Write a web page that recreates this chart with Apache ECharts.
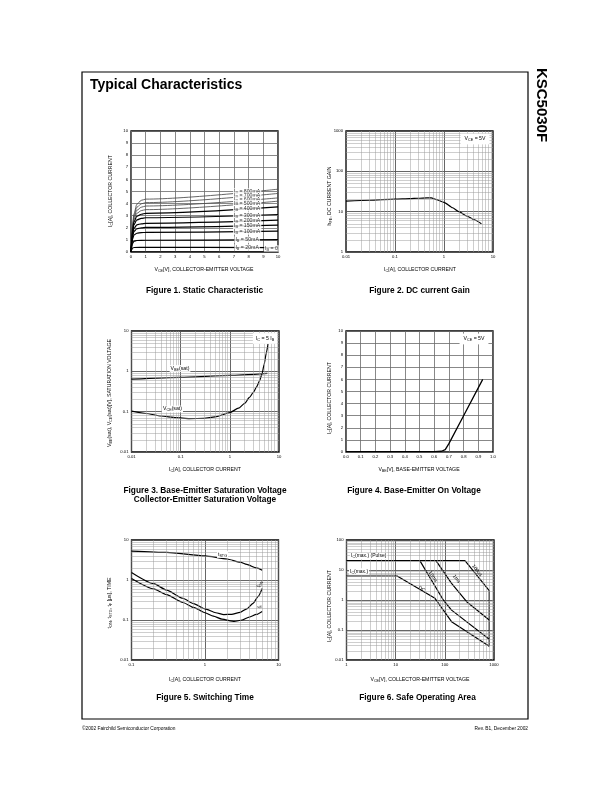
<!DOCTYPE html>
<html>
<head>
<meta charset="utf-8">
<title>KSC5030F Typical Characteristics</title>
<script src="https://cdn.jsdelivr.net/npm/echarts@6.0.0/dist/echarts.min.js"></script>
<style>
html,body{margin:0;padding:0;background:#ffffff;}
#chart{width:612px;height:792px;}
</style>
</head>
<body>
<div id="chart"></div>
<script>
// ---------------- Figure 1: Static Characteristic ----------------
const fig1XTicks = ['0','1','2','3','4','5','6','7','8','9','10'];
const fig1YTicks = ['0','1','2','3','4','5','6','7','8','9','10'];
const fig1IbNames = ['800mA','700mA','600mA','500mA','400mA','300mA','200mA','150mA','100mA','50mA','20mA','0'];
const ib800 = [[0,0],[0.05,1.2],[0.1,2.1],[0.2,3.15],[0.4,3.95],[0.7,4.27],[1,4.37],[10,5.19]];
const ib700 = [[0,0],[0.05,1.15],[0.1,2.0],[0.2,3.0],[0.4,3.7],[0.7,3.98],[1,4.08],[10,4.84]];
const ib600 = [[0,0],[0.05,1.1],[0.1,1.95],[0.2,2.85],[0.4,3.45],[0.7,3.7],[1,3.8],[10,4.47]];
const ib500 = [[0,0],[0.05,1.05],[0.1,1.85],[0.2,2.7],[0.4,3.2],[0.7,3.42],[1,3.5],[10,4.2]];
const ib400 = [[0,0],[0.05,1.0],[0.1,1.75],[0.2,2.5],[0.4,2.95],[0.7,3.12],[1,3.2],[10,3.73]];
const ib300 = [[0,0],[0.05,0.9],[0.1,1.6],[0.2,2.25],[0.4,2.65],[0.7,2.78],[1,2.83],[10,3.1]];
const ib200 = [[0,0],[0.05,0.8],[0.1,1.4],[0.2,1.95],[0.4,2.25],[0.7,2.33],[1,2.37],[10,2.63]];
const ib150 = [[0,0],[0.05,0.7],[0.1,1.25],[0.2,1.7],[0.4,1.92],[0.7,2.0],[1,2.03],[10,2.22]];
const ib100 = [[0,0],[0.05,0.6],[0.1,1.05],[0.2,1.4],[0.4,1.55],[0.7,1.6],[1,1.62],[10,1.72]];
const ib50  = [[0,0],[0.05,0.4],[0.1,0.7],[0.2,0.88],[0.4,0.95],[1,0.97],[10,1.03]];
const ib20  = [[0,0],[0.05,0.2],[0.1,0.33],[0.2,0.37],[1,0.38],[10,0.36]];
const ib0   = [[0,0],[10,0]];

// ---------------- Figure 2: DC current Gain ----------------
const fig2XTicks = ['0.01','0.1','1','10'];
const fig2YTicks = ['1','10','100','1000'];
const fig2Hfe = [[0.01,18.2],[0.03,19.2],[0.1,20.4],[0.2,21],[0.3,21.5],[0.45,22],[0.55,21.9],[0.7,20],[1,17],[1.5,12.5],[2,10],[3,7.7],[4,6.4],[5.8,5]];

// ---------------- Figure 3: Saturation Voltage ----------------
const fig3XTicks = ['0.01','0.1','1','10'];
const fig3YTicks = ['0.01','0.1','1','10'];
const fig3VbeSat = [[0.01,0.64],[0.1,0.71],[1,0.79],[5.8,0.89]];
const fig3VceSat = [[0.01,0.103],[0.02,0.09],[0.04,0.078],[0.08,0.071],[0.15,0.0675],[0.3,0.068],[0.5,0.074],[1,0.095],[1.5,0.122],[2,0.16],[2.5,0.225],[3,0.3],[3.5,0.41],[4,0.57],[4.5,0.85],[5,1.5],[5.5,2.8],[6,4.9]];

// ---------------- Figure 4: Base-Emitter On Voltage ----------------
const fig4XTicks = ['0.0','0.1','0.2','0.3','0.4','0.5','0.6','0.7','0.8','0.9','1.0'];
const fig4YTicks = ['0','1','2','3','4','5','6','7','8','9','10'];
const fig4Ic = [[0,0.03],[0.6,0.03],[0.65,0.06],[0.675,0.2],[0.7,0.69],[0.8,3.0],[0.93,6.0]];

// ---------------- Figure 5: Switching Time ----------------
const fig5XTicks = ['0.1','1','10'];
const fig5YTicks = ['0.01','0.1','1','10'];
const fig5Tstg = [[0.1,5.3],[0.3,4.9],[1,4.0],[2,3.35],[3,2.8],[3.7,2.45],[5,2.0],[6,1.76]];
const fig5Ton  = [[0.1,1.54],[0.2,0.81],[0.3,0.56],[0.5,0.35],[0.7,0.257],[1,0.19],[1.4,0.152],[1.8,0.137],[2.3,0.138],[3,0.155],[3.7,0.19],[4.5,0.26],[5.3,0.39],[6,0.61]];
const fig5Tf   = [[0.1,1.09],[0.2,0.6],[0.3,0.43],[0.5,0.274],[0.7,0.206],[1,0.152],[1.3,0.125],[1.7,0.105],[2.5,0.092],[3.2,0.1],[4,0.118],[5,0.138],[6,0.164]];

// ---------------- Figure 6: Safe Operating Area ----------------
const fig6XTicks = ['1','10','100','1000'];
const fig6YTicks = ['0.01','0.1','1','10','100'];
const fig6Pulse = [[1,20.5],[257,20.5]];
const fig6Dc    = [[1,6.3],[10.7,6.3],[63,1.14],[137,0.19],[800,0.029]];
const fig6Ms10  = [[31,20.5],[93,1.0],[137,0.46],[800,0.049]];
const fig6Ms1   = [[66,20.5],[137,3.6],[278,0.88],[800,0.215]];
const fig6Us100 = [[257,20.5],[800,2.05],[800,0.029]];

// ---------------- helpers ----------------
const FONT = '"Liberation Sans", Arial, Helvetica, sans-serif';
const TICK_FS = 4.2;
const TITLE_FS = 5.2;

function tickFormatter(ticks) {
  return function (v) {
    for (const t of ticks) {
      const n = +t;
      if (Math.abs(n - v) <= Math.abs(n) * 1e-6 + 1e-9) return t;
    }
    return '';
  };
}
function axisLabelCfg(ticks) {
  return {show:true, fontSize:TICK_FS, fontFamily:FONT, color:'#000', margin:3, interval:0, formatter:tickFormatter(ticks)};
}
function linAxis(gi, ticks, interval) {
  return {type:'value', gridIndex:gi, min:+ticks[0], max:+ticks[ticks.length-1], interval:interval,
    axisLine:{show:false}, axisTick:{show:false},
    splitLine:{show:true, lineStyle:{color:'#6a6a6a', width:0.8}},
    axisLabel:axisLabelCfg(ticks)};
}
function logAxis(gi, ticks) {
  return {type:'log', logBase:10, gridIndex:gi, min:+ticks[0], max:+ticks[ticks.length-1],
    axisLine:{show:false}, axisTick:{show:false},
    splitLine:{show:true, lineStyle:{color:'#555', width:0.9}},
    axisLabel:axisLabelCfg(ticks)};
}
function minors(lo, hi) {
  const out = [];
  for (let d = lo; d < hi * 0.999; d *= 10) {
    for (let k = 2; k <= 9; k++) out.push(+(d * k).toPrecision(6));
  }
  return out;
}
function minorGrid(gi, xs, ys, anchor) {
  return {type:'line', xAxisIndex:gi, yAxisIndex:gi, data:[anchor], symbol:'none', showSymbol:false,
    lineStyle:{opacity:0}, silent:true, animation:false, z:1,
    markLine:{silent:true, animation:false, symbol:['none','none'], label:{show:false},
      emphasis:{disabled:true},
      lineStyle:{color:'#9c9c9c', width:0.5, type:'solid'},
      data:[...xs.map(v => ({xAxis:v})), ...ys.map(v => ({yAxis:v}))]}};
}
function curve(gi, data, o) {
  o = o || {};
  const s = {type:'line', xAxisIndex:gi, yAxisIndex:gi, data:data, symbol:'none', showSymbol:false,
    silent:true, animation:false, z:3, emphasis:{disabled:true},
    lineStyle:{color:o.color || '#000', width:o.width || 1.1}};
  if (o.smooth) { s.smooth = o.smooth; s.smoothMonotone = 'x'; }
  return s;
}
function interp(d, x) {
  for (let i = 0; i < d.length - 1; i++) {
    const x0 = d[i][0], y0 = d[i][1], x1 = d[i+1][0], y1 = d[i+1][1];
    if (x >= x0 && x <= x1) return y0 + (y1 - y0) * (x - x0) / (x1 - x0);
  }
  return d[d.length-1][1];
}
function richSub(fs) {
  return {
    s:{fontSize:fs*0.72, lineHeight:fs*0.85, verticalAlign:'bottom', fontFamily:FONT, fill:'#000', color:'#000'}
  };
}
function gText(x, y, text, fs, o) {
  o = o || {};
  const al = o.align || 'center';
  const st = {text:text, fontSize:fs, fontFamily:FONT, fontWeight:o.bold ? 'bold' : 'normal', fill:'#000',
    align:al, textAlign:al, verticalAlign:'middle', textVerticalAlign:'middle',
    lineHeight:fs*1.3, rich:richSub(fs)};
  if (o.bg) { st.backgroundColor = o.bg; st.padding = o.pad || [0,1]; }
  return {type:'text', x:x, y:y, rotation:o.rot || 0, z:100, silent:true, style:st};
}

// ---------------- layout ----------------
const grids = [
  {left:131, top:131, width:147, height:121},
  {left:346, top:131, width:147, height:121},
  {left:131.5, top:331, width:147.5, height:121},
  {left:346, top:331, width:147, height:121},
  {left:131.5, top:540, width:147, height:120},
  {left:346.5, top:540, width:147.5, height:120}
].map(g => Object.assign({show:true, borderColor:'#000', borderWidth:1.3, backgroundColor:'rgba(0,0,0,0)',
  containLabel:false, outerBoundsMode:'none'}, g));

const xAxes = [
  linAxis(0, fig1XTicks, 1),
  logAxis(1, fig2XTicks),
  logAxis(2, fig3XTicks),
  linAxis(3, fig4XTicks, 0.1),
  logAxis(4, fig5XTicks),
  logAxis(5, fig6XTicks)
];
const yAxes = [
  linAxis(0, fig1YTicks, 1),
  logAxis(1, fig2YTicks),
  logAxis(2, fig3YTicks),
  linAxis(3, fig4YTicks, 1),
  logAxis(4, fig5YTicks),
  logAxis(5, fig6YTicks)
];

const series = [];
// minor log grid lines
series.push(minorGrid(1, minors(0.01,10), minors(1,1000), [0.01,1]));
series.push(minorGrid(2, minors(0.01,10), minors(0.01,10), [0.01,0.01]));
series.push(minorGrid(4, minors(0.1,10), minors(0.01,10), [0.1,0.01]));
series.push(minorGrid(5, minors(1,1000), minors(0.01,100), [1,0.01]));

// Figure 1 curves
const fig1Curves = [ib800, ib700, ib600, ib500, ib400, ib300, ib200, ib150, ib100, ib50, ib20, ib0];
fig1Curves.forEach((d, i) => {
  series.push(curve(0, d, {smooth:0.3, width: i < 4 ? 0.85 : 1.2, color: i < 4 ? '#4a4a4a' : '#000'}));
});
// Figure 1 labels (positioned on each curve)
series.push({
  type:'scatter', xAxisIndex:0, yAxisIndex:0, symbolSize:0.01, silent:true, animation:false, z:6,
  itemStyle:{color:'rgba(0,0,0,0)'},
  data: fig1Curves.map((d, i) => {
    const x = i === 11 ? 9.55 : 7.9;
    return {value:[x, interp(d, x)],
      label:{show:true, position:'inside', offset: i === 11 ? [0,-3.5] : [0,0],
        formatter:'I{s|B} = ' + fig1IbNames[i], fontSize:5.2, lineHeight:6.5, fontFamily:FONT, color:'#000',
        backgroundColor:'#fff', padding:[0,1],
        rich:{s:{fontSize:3.8, lineHeight:4.4, verticalAlign:'bottom', fontFamily:FONT, color:'#000'}}}};
  })
});

// Figure 2
series.push(curve(1, fig2Hfe, {smooth:0.2, width:1.2}));
// Figure 3
series.push(curve(2, fig3VbeSat, {smooth:0.2, width:1.2}));
series.push(curve(2, fig3VceSat, {smooth:0.2, width:1.2}));
// Figure 4
series.push(curve(3, fig4Ic, {width:1.3}));
// Figure 5
series.push(curve(4, fig5Tstg, {smooth:0.2, width:1.2}));
series.push(curve(4, fig5Ton, {smooth:0.2, width:1.2}));
series.push(curve(4, fig5Tf, {smooth:0.2, width:1.2}));
// Figure 6
[fig6Pulse, fig6Dc, fig6Ms10, fig6Ms1, fig6Us100].forEach(d => series.push(curve(5, d, {width:1.2})));

// ---------------- texts ----------------
const CAP_FS = 8.3;
const PI2 = Math.PI / 2;
const graphics = [
  {type:'rect', z:0, silent:true, shape:{x:82, y:72, width:446, height:647}, style:{fill:'none', stroke:'#000', lineWidth:1.2}},
  gText(90, 85, 'Typical Characteristics', 14, {bold:true, align:'left'}),
  gText(541, 105, 'KSC5030F', 15, {bold:true, rot:-PI2}),
  gText(82, 729, '©2002 Fairchild Semiconductor Corporation', 4.8, {align:'left'}),
  gText(528, 729, 'Rev. B1, December 2002', 4.8, {align:'right'}),

  // captions
  gText(204.5, 291, 'Figure 1. Static Characteristic', CAP_FS, {bold:true}),
  gText(419.5, 291, 'Figure 2. DC current Gain', CAP_FS, {bold:true}),
  gText(205, 491, 'Figure 3. Base-Emitter Saturation Voltage', CAP_FS, {bold:true}),
  gText(205, 500, 'Collector-Emitter Saturation Voltage', CAP_FS, {bold:true}),
  gText(414, 491, 'Figure 4. Base-Emitter On Voltage', CAP_FS, {bold:true}),
  gText(205, 698, 'Figure 5. Switching Time', CAP_FS, {bold:true}),
  gText(417.5, 698, 'Figure 6. Safe Operating Area', CAP_FS, {bold:true}),

  // axis titles
  gText(111, 191, 'I{s|C}[A], COLLECTOR CURRENT', TITLE_FS, {rot:PI2}),
  gText(204, 269.5, 'V{s|CE}[V], COLLECTOR-EMITTER VOLTAGE', TITLE_FS),
  gText(330, 196, 'h{s|FE}, DC CURRENT GAIN', TITLE_FS, {rot:PI2}),
  gText(420, 269.5, 'I{s|C}[A], COLLECTOR CURRENT', TITLE_FS),
  gText(110, 393, 'V{s|BE}(sat), V{s|CE}(sat)[V], SATURATION VOLTAGE', TITLE_FS, {rot:PI2}),
  gText(205, 469.5, 'I{s|C}[A], COLLECTOR CURRENT', TITLE_FS),
  gText(330, 398, 'I{s|C}[A], COLLECTOR CURRENT', TITLE_FS, {rot:PI2}),
  gText(419, 469.5, 'V{s|BE}[V], BASE-EMITTER VOLTAGE', TITLE_FS),
  gText(110, 603, 't{s|ON}, t{s|STG}, t{s|F} [µs], TIME', TITLE_FS, {rot:PI2}),
  gText(205, 679.5, 'I{s|C}[A], COLLECTOR CURRENT', TITLE_FS),
  gText(330, 606, 'I{s|C}[A], COLLECTOR CURRENT', TITLE_FS, {rot:PI2}),
  gText(420, 679.5, 'V{s|CE}[V], COLLECTOR-EMITTER VOLTAGE', TITLE_FS),

  // annotations
  gText(475, 139, 'V{s|CE} = 5V', 5.2, {bg:'#fff', pad:[2,4]}),
  gText(265, 338.5, 'I{s|C} = 5 I{s|B}', 5.2, {bg:'#fff', pad:[2,3]}),
  gText(180, 368.5, 'V{s|BE}(sat)', 5.2, {bg:'#fff', pad:[0,1]}),
  gText(172.5, 409, 'V{s|CE}(sat)', 5.2, {bg:'#fff', pad:[0,1]}),
  gText(474, 339, 'V{s|CE} = 5V', 5.2, {bg:'#fff', pad:[2,4]}),
  gText(222.5, 554.5, 't{s|STG}', 5.2, {bg:'#fff', pad:[0,1]}),
  gText(259.5, 584, 't{s|ON}', 5.2, {rot:1.05}),
  gText(259.5, 606.5, 't{s|F}', 5.2, {rot:1.05}),
  gText(350, 556, 'I{s|C}(max.) (Pulse)', 5.0, {align:'left', bg:'#fff', pad:[0,1]}),
  gText(349, 571.5, 'I{s|C}(max.)', 5.0, {align:'left', bg:'#fff', pad:[0,1]}),
  gText(421.7, 589, 'DC', 5.0, {rot:-0.52}),
  gText(433, 576.7, '10ms', 5.0, {rot:-1.0}),
  gText(456.5, 579, '1ms', 5.0, {rot:-0.93}),
  gText(477, 570.5, '100µs', 5.0, {rot:-0.9})
];

const chart = echarts.init(document.getElementById('chart'), null, {renderer:'canvas'});
chart.setOption({
  animation:false,
  backgroundColor:'#ffffff',
  grid:grids,
  xAxis:xAxes,
  yAxis:yAxes,
  series:series,
  graphic:{elements:graphics}
});
</script>
</body>
</html>
